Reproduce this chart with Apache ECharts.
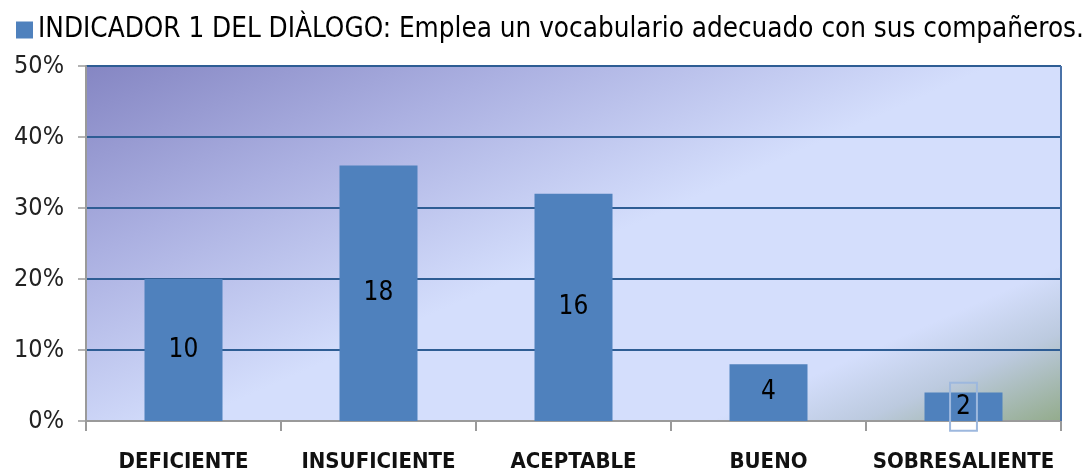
<!DOCTYPE html>
<html><head><meta charset="utf-8">
<script src="https://cdn.jsdelivr.net/npm/echarts@6/dist/echarts.min.js"></script>
<style>html,body{margin:0;padding:0;background:#fff}#c{width:1092px;height:473px}</style>
</head><body><div id="c"></div>
<script>
const categories = ['DEFICIENTE', 'INSUFICIENTE', 'ACEPTABLE', 'BUENO', 'SOBRESALIENTE'];
const percentValues = [20, 36, 32, 8, 4];
const countLabels = [10, 18, 16, 4, 2];
const yTicks = [0, 10, 20, 30, 40, 50];
const seriesName = 'INDICADOR 1 DEL DIÀLOGO: Emplea un vocabulario adecuado con sus compañeros.';

const FONT = '"Liberation Sans Narrow", "DejaVu Sans Condensed", "Liberation Sans", sans-serif';
const chart = echarts.init(document.getElementById('c'), null, {renderer: 'canvas'});

const data = percentValues.map((v, i) => {
  const d = {value: v};
  if (i === categories.length - 1) {
    d.label = {borderColor: '#9db8de', borderWidth: 2, padding: [12, 6, 10, 6]};
  }
  return d;
});

chart.setOption({
  animation: false,
  legend: {
    show: true, left: 11, top: 11, itemWidth: 17, itemHeight: 17, icon: 'rect',
    textStyle: {fontFamily: FONT, fontSize: 27.6, color: '#000'},
    itemGap: 0
  },
  grid: {
    left: 86, right: 31, top: 66, bottom: 52, show: true, borderWidth: 0,
    backgroundColor: {
      type: 'linear', x: 86, y: 66, x2: 441, y2: 866, global: true,
      colorStops: [
        {offset: 0, color: '#8586c3'},
        {offset: 0.2, color: '#abb0e1'},
        {offset: 0.42, color: '#d4defc'},
        {offset: 0.66, color: '#d4defc'},
        {offset: 0.73, color: '#bccadf'},
        {offset: 0.83, color: '#90a985'}
      ]
    }
  },
  xAxis: {
    type: 'category', data: categories,
    axisLine: {show: true, lineStyle: {color: '#9a9a9a', width: 2}},
    axisTick: {show: true, length: 10, lineStyle: {color: '#9a9a9a', width: 2}},
    axisLabel: {interval: 0, fontFamily: FONT, fontSize: 22, fontWeight: 'bold', color: '#111', margin: 30}
  },
  yAxis: {
    type: 'value', min: yTicks[0], max: yTicks[yTicks.length - 1], interval: 10,
    axisLine: {show: true, lineStyle: {color: '#9a9a9a', width: 2}},
    axisTick: {show: true, length: 8, lineStyle: {color: '#9a9a9a', width: 1.5}},
    axisLabel: {formatter: '{value}%', fontFamily: FONT, fontSize: 25, color: '#222', margin: 22},
    splitLine: {show: true, lineStyle: {color: '#2e5d94', width: 2}}
  },
  series: [{
    name: seriesName, type: 'bar', data: data, barWidth: '40%',
    itemStyle: {color: '#4f81bd'},
    label: {
      show: true, position: 'inside', fontFamily: FONT, fontSize: 26, color: '#000',
      formatter: p => String(countLabels[p.dataIndex])
    }
  }],
  graphic: [{
    type: 'line', shape: {x1: 1061, y1: 66, x2: 1061, y2: 421},
    style: {stroke: '#4a72a8', lineWidth: 2}, z: 10
  }]
});
</script></body></html>
